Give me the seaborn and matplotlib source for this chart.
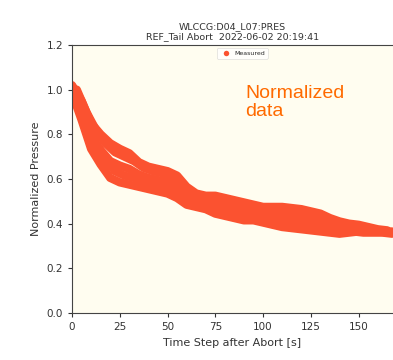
import numpy as np
import pandas as pd
import seaborn as sns
import matplotlib
matplotlib.use("Agg")
import matplotlib.pyplot as plt

# runs sampled every 5 s (A, E, D) and offset by 2.5 s (B, C)
t_main = np.arange(0, 170, 5)
t_offs = np.arange(2.5, 170, 5)

run_a = [1.02, 0.95, 0.85, 0.80, 0.76, 0.735, 0.715, 0.675, 0.655, 0.645, 0.635, 0.615,
         0.565, 0.535, 0.525, 0.525, 0.515, 0.505, 0.495, 0.485, 0.475, 0.475, 0.475, 0.47,
         0.465, 0.455, 0.445, 0.425, 0.41, 0.40, 0.395, 0.385, 0.375, 0.37]
run_b = [1.00, 0.90, 0.82, 0.76, 0.72, 0.70, 0.68, 0.65, 0.635, 0.625, 0.61, 0.57,
         0.535, 0.515, 0.51, 0.50, 0.49, 0.48, 0.47, 0.465, 0.46, 0.45, 0.445, 0.44,
         0.43, 0.42, 0.41, 0.395, 0.385, 0.38, 0.375, 0.37, 0.365, 0.365]
run_e = [1.00, 0.91, 0.79, 0.73, 0.68, 0.66, 0.645, 0.62, 0.605, 0.595, 0.585, 0.555,
         0.525, 0.505, 0.495, 0.485, 0.475, 0.465, 0.455, 0.45, 0.44, 0.43, 0.425, 0.42,
         0.415, 0.41, 0.40, 0.39, 0.38, 0.375, 0.375, 0.37, 0.37, 0.365]
run_c = [0.99, 0.87, 0.76, 0.69, 0.635, 0.615, 0.605, 0.59, 0.575, 0.565, 0.55, 0.515,
         0.49, 0.485, 0.47, 0.46, 0.45, 0.44, 0.435, 0.425, 0.415, 0.405, 0.40, 0.395,
         0.39, 0.38, 0.375, 0.365, 0.365, 0.365, 0.36, 0.36, 0.36, 0.355]
run_d = [0.985, 0.865, 0.735, 0.665, 0.605, 0.585, 0.575, 0.565, 0.555, 0.545, 0.535, 0.515,
         0.485, 0.475, 0.465, 0.445, 0.435, 0.425, 0.415, 0.415, 0.405, 0.395, 0.385, 0.38,
         0.375, 0.37, 0.365, 0.36, 0.355, 0.36, 0.365, 0.365, 0.365, 0.36]

x_ticks = [0, 25, 50, 75, 100, 125, 150]
y_ticks = [0.0, 0.2, 0.4, 0.6, 0.8, 1.0, 1.2]

df = pd.concat([
    pd.DataFrame({"t": t_main, "p": run_a, "run": "A"}),
    pd.DataFrame({"t": t_offs, "p": run_b, "run": "B"}),
    pd.DataFrame({"t": t_main, "p": run_e, "run": "E"}),
    pd.DataFrame({"t": t_offs, "p": run_c, "run": "C"}),
    pd.DataFrame({"t": t_main, "p": run_d, "run": "D"}),
])
df["kind"] = "Measured"

red = "#fb5230"

sns.set_theme(style="ticks")
plt.rcParams["font.family"] = ["DejaVu Sans"]

fig = plt.figure(figsize=(3.93, 3.60), dpi=100)
ax = fig.add_axes([72 / 393, 1 - 313 / 360, 1 - 72 / 393, 268 / 360])
ax.set_facecolor("#fffdf0")

# thick traces so the dense measurements merge into one band
sns.lineplot(data=df, x="t", y="p", units="run", estimator=None, color=red,
             linewidth=6, solid_capstyle="round", solid_joinstyle="round",
             legend=False, ax=ax)
sns.scatterplot(data=df, x="t", y="p", hue="kind", palette=[red],
                marker="o", s=24, linewidth=0, ax=ax)

ax.set_xlim(0, 168)
ax.set_ylim(0, 1.2)
ax.set_xticks(x_ticks)
ax.set_yticks(y_ticks)
ax.set_yticklabels([f"{v:.1f}" for v in y_ticks])
ax.tick_params(labelsize=7.5, length=3, width=0.8, color="#333333", labelcolor="#333333")
for s in ["left", "bottom", "top"]:
    ax.spines[s].set_color("#444444")
    ax.spines[s].set_linewidth(0.8)
ax.spines["right"].set_visible(False)

ax.set_xlabel("Time Step after Abort [s]", fontsize=8, color="#333333")
ax.set_ylabel("Normalized Pressure", fontsize=8, color="#333333")
ax.set_title("WLCCG:D04_L07:PRES\nREF_Tail Abort  2022-06-02 20:19:41",
             fontsize=6.8, color="#333333", pad=4)

leg = ax.legend(loc="upper center", fontsize=4.5, markerscale=0.8, frameon=True,
                bbox_to_anchor=(0.53, 1.0), borderpad=0.4, handletextpad=0.4)
leg.get_frame().set_linewidth(0.4)

ax.text(0.54, 0.85, "Normalized\ndata", transform=ax.transAxes, fontsize=14,
        color="#ff6a00", family=["Liberation Sans"], va="top", ha="left",
        linespacing=1.05)

fig.savefig("out.png", dpi=100)
